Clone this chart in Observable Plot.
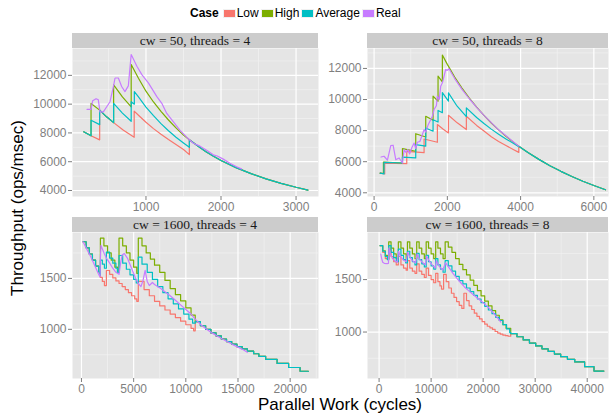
<!DOCTYPE html>
<html><head><meta charset="utf-8">
<script src="https://cdn.jsdelivr.net/npm/d3@7"></script>
<script src="https://cdn.jsdelivr.net/npm/@observablehq/plot@0.6"></script>
<style>
body{margin:0;background:#fff;}
#chart{position:relative;width:610px;height:414px;background:#fff;font-family:"Liberation Sans",Arial,sans-serif;overflow:hidden}
.strip{position:absolute;background:#cccccc;color:#1a1a1a;font-family:"Liberation Serif","Times New Roman",serif;font-size:13.5px;text-align:center;line-height:15px;height:15px;white-space:nowrap}
.panel{position:absolute}
#legend{position:absolute;left:190px;top:6px;display:flex;align-items:center;font-size:12px;color:#000;white-space:nowrap}
#legend .t{font-weight:bold;margin-right:2px}
#legend .sw{width:11px;height:7px;margin-left:3px;box-shadow:0 0 0 1px #f0f0f0}
#legend .lb{margin-left:2px}
.atitle{position:absolute;font-size:17px;color:#000;white-space:nowrap}
</style></head>
<body>
<div id="chart"></div>
<script>
const cases = ["Low","High","Average","Real"];
const caseColors = ["#F8766D","#7CAE00","#00BFC4","#C77CFF"];
const facetLabels = ["cw = 50, threads = 4","cw = 50, threads = 8","cw = 1600, threads = 4","cw = 1600, threads = 8"];

// ---- panel 1: cw = 50, threads = 4
const tl_xticks = [1000,2000,3000];
const tl_xminor = [500,1500,2500];
const tl_yticks = [4000,6000,8000,10000,12000];
const tl_yminor = [5000,7000,9000,11000,13000];
const tl_tail = [[1578,7521],[1700,7050],[1800,6700],[1900,6380],[2000,6090],[2200,5590],[2400,5170],[2600,4810],[2800,4500],[3000,4225],[3158,4030]];
const tl_low = [[170,8080],[268,7800],[383,7520],[383,9585],[475,9120],[569,8718],[700,8180],[843,7700],[843,9514],[900,9230],[1000,8740],[1100,8300],[1200,7910],[1300,7540],[1400,7200],[1500,6850],[1578,6490],[1578,7521]];
const tl_high = [[170,8080],[268,7800],[268,10050],[383,9585],[475,9120],[569,8718],[569,11345],[686,10500],[803,9817],[803,12754],[900,11800],[1000,10900],[1100,10150],[1200,9500],[1300,8900],[1400,8350],[1500,7850],[1578,7521]];
const tl_avg = [[170,8080],[268,7800],[268,8880],[383,8577],[383,9585],[475,9120],[569,8718],[569,10050],[686,9380],[803,8810],[803,10170],[845,10000],[845,10870],[900,10500],[1000,9800],[1100,9200],[1200,8650],[1300,8150],[1400,7700],[1500,7300],[1578,7000],[1578,7521]];
const tl_real = [[215,9634],[268,9634],[290,10239],[335,10380],[365,10300],[388,9464],[432,9464],[477,9817],[521,10169],[566,11225],[588,11817],[632,11817],[676,11225],[720,10873],[765,11272],[803,13450],[879,12634],[945,12049],[1034,11465],[1145,10521],[1211,10056],[1277,9352],[1366,8761],[1454,8176],[1543,7704],[1631,7282],[1720,7080],[1808,6800],[1897,6480],[1950,6400],[2030,6180],[2118,5900],[2207,5650],[2272,5500]];

// ---- panel 2: cw = 50, threads = 8
const tr_xticks = [0,2000,4000,6000];
const tr_xminor = [1000,3000,5000];
const tr_yticks = [4000,6000,8000,10000,12000];
const tr_yminor = [5000,7000,9000,11000,13000];
const tr_tail = [[3950,7000],[4200,6590],[4500,6150],[4800,5745],[5100,5380],[5400,5050],[5700,4745],[6000,4465],[6318,4194]];
const tr_low = [[165,5260],[290,5220],[290,5900],[892,5870],[892,6660],[1365,6580],[1365,7460],[1728,7250],[1728,8390],[1880,8100],[2030,7850],[2030,8990],[2270,8500],[2519,8065],[2519,8925],[2800,8334],[3000,7970],[3200,7600],[3400,7300],[3600,7040],[3800,6785],[3950,6600],[3950,7000]];
const tr_high = [[165,5260],[255,5240],[255,5980],[774,5915],[774,6840],[1137,6670],[1137,7800],[1410,7590],[1410,8925],[1610,8667],[1610,10215],[1746,9892],[1746,11505],[1864,11140],[1864,12860],[2000,12260],[2200,11450],[2400,10740],[2600,10090],[2800,9510],[3000,8980],[3200,8490],[3400,8050],[3600,7640],[3800,7260],[3950,7000]];
const tr_avg = [[165,5260],[270,5220],[270,5960],[774,5915],[774,6300],[1137,6240],[1137,7100],[1410,7000],[1410,8170],[1610,7960],[1610,8700],[1746,8550],[1746,9300],[1864,9150],[1864,10450],[2030,9892],[2030,10430],[2250,9630],[2519,8900],[2519,9462],[2800,8845],[3000,8454],[3200,8096],[3400,7767],[3600,7464],[3800,7184],[3950,6970],[3950,7000]];
const tr_real = [[190,6300],[273,6350],[364,6100],[455,7040],[519,7060],[592,6130],[683,6240],[774,5914],[819,6780],[870,6600],[920,6780],[970,6500],[1030,6900],[1092,7200],[1137,6850],[1180,7250],[1250,7300],[1365,8065],[1410,7900],[1480,8400],[1592,8925],[1637,9355],[1700,9600],[1728,10215],[1780,10000],[1819,10860],[1865,11075],[1955,11935],[2000,11880],[2046,11978],[2200,11350],[2400,10650],[2600,10050],[2800,9500],[3000,8980],[3400,8050],[3950,7000]];

// ---- panel 3: cw = 1600, threads = 4
const bl_xticks = [0,5000,10000,15000,20000];
const bl_xminor = [2500,7500,12500,17500,22500];
const bl_yticks = [1000,1500];
const bl_yminor = [750,1250,1750];
const bl_start = [[150,1860],[450,1800],[750,1740],[1050,1680],[1350,1620],[1650,1565],[1750,1535]];
const bl_tail = [[10900,1075],[11400,1035],[11900,1000],[12400,965],[12900,935],[13400,905],[13900,880],[14400,855],[14900,830],[15400,808],[15900,785],[16500,760],[17000,735],[17650,705],[18750,665],[19850,625],[20950,588],[21750,588]];
const bl_low = [[1813,1510],[2000,1470],[2200,1430],[2387,1578],[2700,1540],[3000,1505],[3300,1475],[3600,1450],[3900,1420],[4200,1390],[4500,1360],[4800,1330],[5100,1300],[5300,1275],[5446,1470],[6000,1390],[6500,1330],[7000,1275],[7500,1230],[8000,1190],[8500,1150],[9000,1115],[9500,1080],[10000,1045],[10500,1010],[10750,985]];
const bl_high = [[1813,1895],[2150,1820],[2500,1750],[2850,1680],[3200,1610],[3450,1560],[3598,1895],[3950,1820],[4300,1750],[4650,1680],[5000,1610],[5300,1550],[5446,1895],[5800,1820],[6200,1750],[6600,1690],[7000,1630],[7500,1560],[8000,1480],[8500,1400],[9000,1340],[9500,1280],[10000,1210],[10500,1140]];
const bl_avg = [[1813,1680],[2000,1640],[2200,1600],[2387,1758],[2700,1700],[3000,1650],[3300,1600],[3450,1560],[3598,1725],[3950,1650],[4300,1590],[4650,1535],[5000,1490],[5250,1455],[5446,1709],[5800,1640],[6300,1560],[6800,1490],[7300,1420],[7800,1360],[8300,1300],[8800,1250],[9300,1200],[9800,1150],[10300,1100],[10650,1060]];
const bl_real = [[150,1860],[500,1790],[900,1710],[1300,1620],[1600,1550],[1780,1515],[1813,1700],[1870,1824],[2000,1790],[2200,1740],[2387,1700],[2700,1650],[3000,1600],[3300,1560],[3598,1540],[3750,1650],[3900,1730],[4100,1745],[4400,1700],[4800,1600],[5200,1500],[5446,1450],[5700,1420],[5900,1480],[6100,1580],[6300,1470],[6500,1430],[6800,1460],[7000,1440],[7300,1420],[7600,1400],[8000,1370],[8500,1330],[9000,1285],[9500,1240],[10000,1195],[10500,1150],[10900,1100],[11500,1040],[12000,1000],[12500,965],[13000,935],[13500,905],[14000,878],[14500,850],[15000,825],[15500,800],[15900,775]];

// ---- panel 4: cw = 1600, threads = 8
const br_xticks = [0,10000,20000,30000,40000];
const br_xminor = [5000,15000,25000,35000];
const br_yticks = [1000,1500];
const br_yminor = [750,1250,1750];
const br_tail = [[25300,985],[26500,955],[27700,925],[28900,895],[30100,868],[31300,840],[32500,815],[33700,790],[34900,765],[36200,740],[37600,715],[39500,670],[41300,628],[43200,628]];
const br_low = [[198,1823],[700,1760],[1200,1700],[1850,1790],[2300,1720],[2800,1670],[3300,1640],[3700,1720],[4200,1640],[4700,1610],[5200,1590],[5450,1680],[5900,1610],[6400,1580],[6900,1560],[7230,1650],[7700,1580],[8200,1550],[8700,1520],[9050,1610],[9500,1540],[10000,1500],[10500,1470],[10880,1560],[11300,1480],[11700,1440],[12000,1410],[12400,1550],[12900,1480],[13400,1420],[13900,1370],[14400,1330],[14900,1290],[15400,1255],[15900,1225],[16300,1370],[16800,1300],[17300,1250],[17800,1215],[18300,1180],[18800,1150],[19300,1125],[19800,1100],[20300,1075],[20800,1055],[21300,1040],[21800,1025],[22300,1005],[22800,990],[23300,980],[23800,970],[24300,965],[24800,960]];
const br_high = [[198,1823],[700,1775],[1200,1730],[1600,1695],[1850,1860],[2300,1800],[2800,1745],[3300,1700],[3700,1860],[4200,1800],[4700,1745],[5200,1700],[5450,1860],[5900,1800],[6400,1745],[6900,1700],[7230,1860],[7700,1800],[8200,1745],[8700,1700],[9050,1860],[9500,1800],[10000,1745],[10500,1700],[10880,1860],[11300,1800],[11800,1745],[12300,1700],[12700,1860],[13300,1810],[14000,1760],[14700,1700],[15400,1645],[16100,1595],[16800,1545],[17500,1495],[18200,1445],[18900,1395],[19600,1345],[20300,1295],[21000,1250],[21700,1205],[22400,1160],[23100,1115],[23800,1070],[24400,1035]];
const br_avg = [[198,1823],[700,1770],[1200,1720],[1600,1690],[1850,1823],[2300,1760],[2800,1710],[3300,1670],[3700,1790],[4200,1730],[4700,1690],[5100,1660],[5450,1770],[5900,1710],[6400,1670],[6900,1640],[7230,1750],[7700,1690],[8200,1650],[8700,1620],[9050,1730],[9500,1670],[10000,1630],[10500,1600],[10880,1700],[11300,1640],[11800,1600],[12300,1570],[12700,1680],[13300,1630],[14000,1580],[14700,1530],[15400,1490],[16100,1460],[16800,1420],[17500,1385],[18200,1350],[18900,1315],[19600,1280],[20300,1245],[21000,1210],[21700,1175],[22400,1140],[23100,1110],[23800,1070],[24500,1030],[25100,995]];
const br_real = [[326,1744],[500,1700],[700,1665],[1000,1655],[1500,1652],[1800,1655],[1900,1800],[2200,1740],[2600,1700],[3000,1680],[3500,1665],[3750,1770],[4100,1720],[4600,1690],[5200,1670],[5500,1760],[5900,1715],[6400,1680],[7000,1660],[7300,1745],[7700,1700],[8300,1665],[8900,1640],[9150,1725],[9600,1680],[10200,1640],[10800,1610],[11000,1680],[11500,1630],[12200,1590],[12800,1660],[13500,1610],[14200,1560],[15000,1510],[15700,1470],[16400,1430],[17200,1395],[18000,1360],[19000,1320],[20000,1280],[21000,1235],[22000,1180],[23000,1120],[23400,1095]];

const panels = [
  {label: facetLabels[0], left: 72, top: 48, w: 246, h: 148, xd: [21,3299], yd: [3583,13867], xt: tl_xticks, xm: tl_xminor, yt: tl_yticks, ym: tl_yminor, step: false,
   series: [tl_low.concat(tl_tail), tl_high.concat(tl_tail), tl_avg.concat(tl_tail), tl_real]},
  {label: facetLabels[1], left: 367, top: 48, w: 241, h: 148, xd: [-180,6400], yd: [3761,13283], xt: tr_xticks, xm: tr_xminor, yt: tr_yticks, ym: tr_yminor, step: false,
   series: [tr_low.concat(tr_tail), tr_high.concat(tr_tail), tr_avg.concat(tr_tail), tr_real]},
  {label: facetLabels[2], left: 72, top: 232, w: 246, h: 146, xd: [-860,22715], yd: [517,1951], xt: bl_xticks, xm: bl_xminor, yt: bl_yticks, ym: bl_yminor, step: true,
   series: [bl_start.concat(bl_low, bl_tail), bl_start.concat(bl_high, bl_tail), bl_start.concat(bl_avg, bl_tail), bl_real]},
  {label: facetLabels[3], left: 367, top: 232, w: 241, h: 146, xd: [-2226,44090], yd: [557,1949], xt: br_xticks, xm: br_xminor, yt: br_yticks, ym: br_yminor, step: true,
   series: [br_low.concat(br_tail), br_high.concat(br_tail), br_avg.concat(br_tail), br_real]}
];

const chart = document.getElementById("chart");
const ML = 46, MB = 22;

for (const p of panels) {
  const lineMarks = p.series.map((s, i) => Plot.line(s, {
    x: d => d[0], y: d => d[1], stroke: caseColors[i], strokeWidth: 1.2,
    curve: (p.step && i < 3) ? "step-after" : "linear", clip: true
  }));
  const svg = Plot.plot({
    width: ML + p.w, height: p.h + MB,
    marginLeft: ML, marginRight: 0, marginTop: 0, marginBottom: MB,
    x: {domain: p.xd, axis: null},
    y: {domain: p.yd, axis: null},
    style: {background: "transparent", fontSize: "12px", fontFamily: '"Liberation Sans", Arial, sans-serif', color: "#7f7f7f", overflow: "visible"},
    marks: [
      Plot.frame({fill: "#e5e5e5", stroke: "none"}),
      Plot.ruleX(p.xm, {stroke: "#f2f2f2", strokeWidth: 0.7}),
      Plot.ruleY(p.ym, {stroke: "#f2f2f2", strokeWidth: 0.7}),
      Plot.ruleX(p.xt, {stroke: "#ffffff", strokeWidth: 1.2}),
      Plot.ruleY(p.yt, {stroke: "#ffffff", strokeWidth: 1.2}),
      Plot.axisX({ticks: p.xt, tickSize: 4, tickPadding: 2, tickFormat: d3.format("d"), fontSize: 12}),
      Plot.axisY({ticks: p.yt, tickSize: 4, tickPadding: 2, tickFormat: d3.format("d"), fontSize: 12}),
      ...lineMarks
    ]
  });
  const wrap = document.createElement("div");
  wrap.className = "panel";
  wrap.style.left = (p.left - ML) + "px";
  wrap.style.top = p.top + "px";
  wrap.appendChild(svg);
  chart.appendChild(wrap);

  const strip = document.createElement("div");
  strip.className = "strip";
  strip.style.left = p.left + "px";
  strip.style.top = (p.top - 15) + "px";
  strip.style.width = p.w + "px";
  strip.textContent = p.label;
  chart.appendChild(strip);
}

// legend
const legend = document.createElement("div");
legend.id = "legend";
const lt = document.createElement("span");
lt.className = "t"; lt.textContent = "Case";
legend.appendChild(lt);
cases.forEach((c, i) => {
  const sw = document.createElement("span");
  sw.className = "sw"; sw.style.background = caseColors[i];
  const lb = document.createElement("span");
  lb.className = "lb"; lb.textContent = c;
  legend.appendChild(sw); legend.appendChild(lb);
});
chart.appendChild(legend);

// axis titles
const xt = document.createElement("div");
xt.className = "atitle"; xt.textContent = "Parallel Work (cycles)";
xt.style.left = "340px"; xt.style.top = "405px";
xt.style.transform = "translate(-50%,-50%)";
chart.appendChild(xt);
const yt = document.createElement("div");
yt.className = "atitle"; yt.textContent = "Throughput (ops/msec)";
yt.style.left = "18px"; yt.style.top = "208px";
yt.style.transform = "translate(-50%,-50%) rotate(-90deg)";
chart.appendChild(yt);
</script>
</body></html>
